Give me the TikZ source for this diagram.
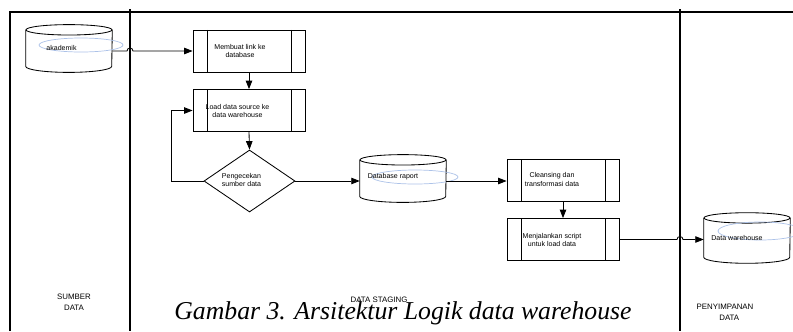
\documentclass[tikz,border=0pt]{standalone}
\usepackage{fontspec}
\setmainfont{Liberation Sans}
\newfontfamily\capfont{Liberation Serif}
\usepackage{tikz}
\usetikzlibrary{shapes,arrows,arrows.meta,positioning}
\definecolor{halo}{RGB}{172,194,232}

% cylinder outline drawn over a (named) Store node
\newcommand{\storeshape}[1]{%
	\draw [line width=0.6pt] ([yshift=-0.13cm]#1.north) ellipse (43 and 5.2);
	\draw [line width=0.6pt] ([yshift=-0.13cm]#1.north west) -- ([yshift=0.15cm]#1.south west) arc (180:0:43 and 6) -- ([yshift=-0.13cm]#1.north east);}

\begin{document}
\begin{tikzpicture}[x=0.025cm, y=-0.025cm]
		\tikzstyle{Proc}	= [rectangle, draw, line width=0.6pt, minimum width=2.8cm, minimum height=1.05cm, inner sep=0pt,
					   path picture={\draw [line width=0.6pt] ([xshift=0.35cm]path picture bounding box.north west) -- ([xshift=0.35cm]path picture bounding box.south west);
					                 \draw [line width=0.6pt] ([xshift=-0.35cm]path picture bounding box.north east) -- ([xshift=-0.35cm]path picture bounding box.south east);}]
		\tikzstyle{Check}	= [diamond, draw, line width=0.6pt, minimum width=2.275cm, minimum height=1.55cm, inner sep=0pt]
		\tikzstyle{Store}	= [rectangle, minimum width=2.15cm, minimum height=1.18cm, inner sep=0pt]
		\tikzstyle{Txt}		= [font=\fontsize{5}{5.8}\selectfont, align=center, inner sep=0pt]
		\tikzstyle{LaneTxt}	= [font=\fontsize{5.6}{8}\selectfont, align=center, inner sep=0pt]
		\tikzstyle{Flow}	= [-{Triangle[length=6pt,width=4.6pt]}, line width=0.6pt]
		\tikzstyle{Lane}	= [line width=0.8pt]
		\tikzstyle{Halo}	= [halo, line width=0.5pt]

		\useasboundingbox (0,0) rectangle (793,331);

		% swimlanes
		\draw [line width=1.4pt] (10,331) -- (10,12) -- (793,12);
		\draw [Lane] (130,9) -- (130,331);
		\draw [Lane] (680,9) -- (680,331);

		\node (ak) at (69,48.5) [Store] {};
		\node (mk) at (249,51) [Proc] {};
		\node (ld) at (249,110.5) [Proc] {};
		\node (ck) at (249.5,181) [Check] {};
		\node (dr) at (403,178.5) [Store] {};
		\node (ct) at (563,180.5) [Proc] {};
		\node (mj) at (563,239.5) [Proc] {};
		\node (dw) at (747,238) [Store, minimum height=1.25cm] {};

		\storeshape{ak}
		\storeshape{dr}
		\storeshape{dw}

		\draw [Halo] (81,45) ellipse (42 and 7);
		\draw [Halo] (415,177) ellipse (43 and 7);
		\draw [Halo] (760,231) ellipse (42 and 9);

		\node (akt) at (61.5,48) [Txt] {akademik};
		\node (mkt) at (240,51) [Txt] {Membuat link ke\\database};
		\node (ldt) at (237.5,111) [Txt] {Load data source ke\\data warehouse};
		\node (ckt) at (241.5,180) [Txt, align=left] {Pengecekan\\sumber data};
		\node (drt) at (393,177) [Txt] {Database raport};
		\node (ctt) at (552,179.5) [Txt] {Cleansing dan\\transformasi data};
		\node (mjt) at (552,240) [Txt] {Menjalankan script\\untuk load data};
		\node (dwt) at (737,238) [Txt] {Data warehouse};

		\draw [Flow] (ak.east |- mk) -- (127,51) arc (180:360:3) -- (mk.west);
		\draw [Flow] (mk.south) to (ld.north);
		\draw [Flow] (ld.south) to (ck.north);
		\draw [Flow] (ck.west) -- ++(-32,0) |- (ld.west);
		\draw [Flow] (ck.east) to (dr.west |- ck.east);
		\draw [Flow] (dr.east |- ck.east) to (ct.west |- ck.east);
		\draw [Flow] (ct.south) to (mj.north);
		\draw [Flow] (mj.east) -- (677,239.5) arc (180:360:3) -- (dw.west |- mj.east);

		% lane titles
		\node (l1) at (74,302) [LaneTxt] {SUMBER\\DATA};
		\node (l2) at (379,300) [LaneTxt] {DATA STAGING};
		\node (l3) at (725,312.5) [LaneTxt] {PENYIMPANAN\\\hspace*{6pt}DATA};

		\node (cap) at (403,319) [anchor=base, font=\capfont\itshape\fontsize{18.3}{20}\selectfont] {Gambar 3. Arsitektur Logik data warehouse};
	\end{tikzpicture}
\end{document}
